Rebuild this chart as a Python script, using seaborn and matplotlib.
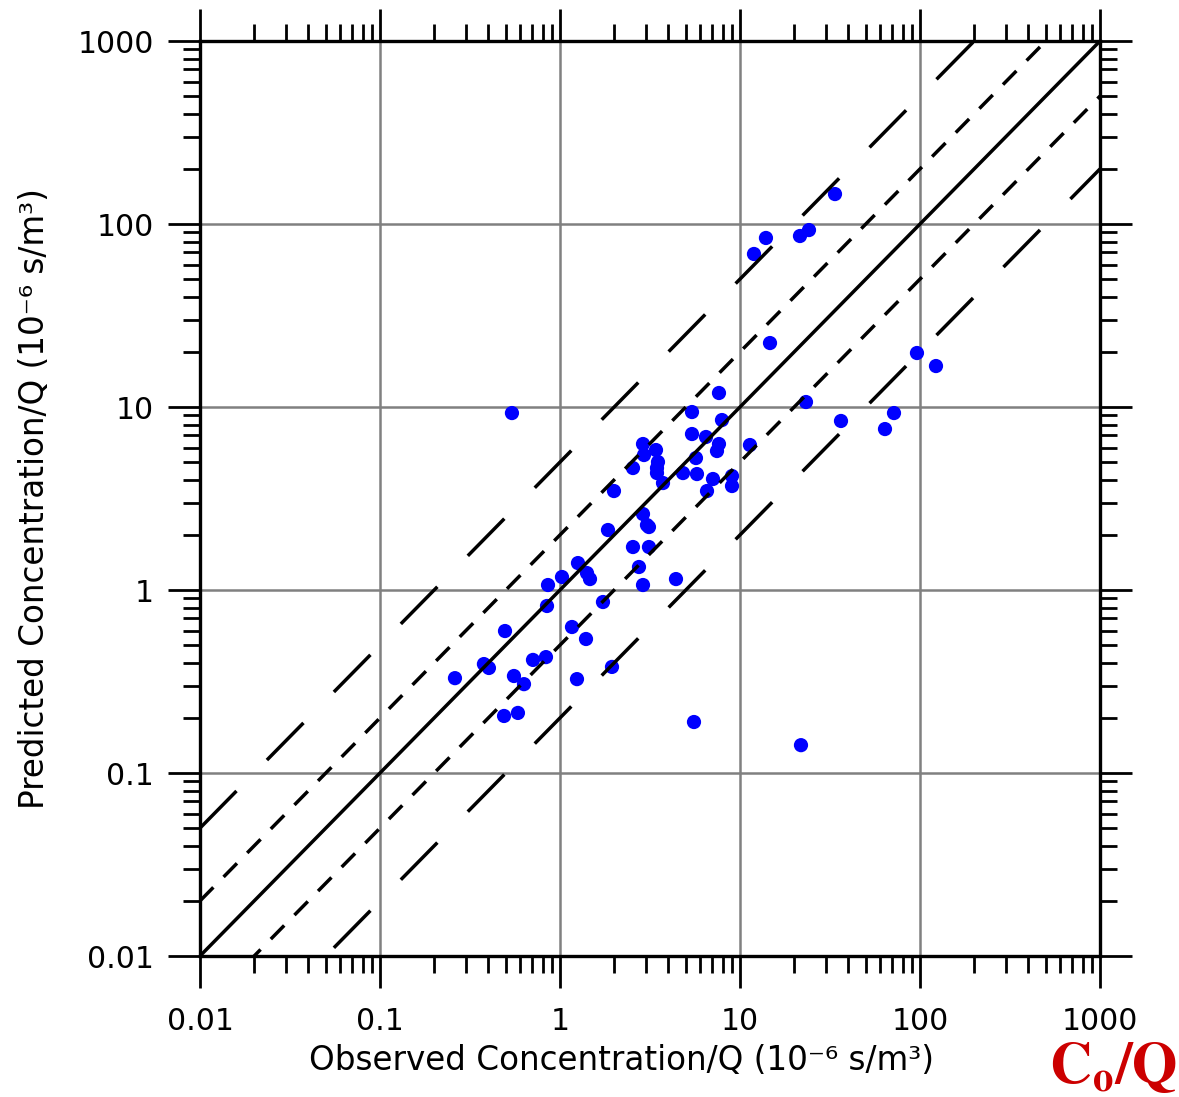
import numpy as np
import pandas as pd
import seaborn as sns
import matplotlib.pyplot as plt
from matplotlib.ticker import LogLocator, FixedLocator, NullFormatter

# observed vs predicted concentration / Q (10^-6 s/m3)
observed = [0.261, 0.378, 0.403, 0.495, 0.555, 0.631, 0.708, 0.836, 0.847, 0.858,
            0.489, 0.584, 1.026, 1.166, 1.259, 1.413, 1.468, 1.395, 1.243, 1.733,
            1.945, 1.995, 1.848, 2.747, 2.892, 4.41, 2.544, 3.121, 2.892, 3.043,
            3.121, 2.544, 2.892, 2.929, 3.415, 3.503, 3.459, 3.459, 3.735, 4.823,
            5.694, 5.768, 5.412, 5.412, 6.474, 6.558, 7.079, 7.643, 7.643, 7.451,
            7.943, 9.03, 9.03, 11.36, 0.541, 5.552, 21.82, 14.68, 11.96, 13.94,
            21.54, 24.17, 33.71, 23.26, 36.4, 63.9, 71.7, 96.2, 122.7]
predicted = [0.330, 0.394, 0.375, 0.597, 0.339, 0.306, 0.415, 0.430, 0.818, 1.065,
             0.205, 0.213, 1.178, 0.628, 1.404, 1.238, 1.148, 0.540, 0.326, 0.860,
             0.380, 3.475, 2.128, 1.336, 1.065, 1.148, 1.718, 1.718, 2.602, 2.265,
             2.209, 4.642, 6.279, 5.466, 5.821, 5.006, 4.642, 4.357, 3.843, 4.357,
             5.263, 4.303, 9.39, 7.12, 6.858, 3.475, 4.043, 11.93, 6.279, 5.749,
             8.49, 4.198, 3.701, 6.199, 9.27, 0.190, 0.142, 22.37, 68.6, 83.9,
             86.0, 92.7, 145.8, 10.65, 8.39, 7.58, 9.27, 19.73, 16.75]

line_x = [0.01, 1000]
factor_lines = [1, 2, 0.5, 5, 0.2]
tick_vals = [0.01, 0.1, 1, 10, 100, 1000]
tick_labels = ["0.01", "0.1", "1", "10", "100", "1000"]

sns.set_style("ticks")
plt.rcParams['font.family'] = ['DejaVu Sans']
plt.rcParams['text.color'] = 'black'
plt.rcParams['axes.labelcolor'] = 'black'
plt.rcParams['xtick.color'] = 'black'
plt.rcParams['ytick.color'] = 'black'

fig = plt.figure(figsize=(11.79, 10.97), dpi=100)
ax = fig.add_axes([0.1696, 0.1285, 0.7634, 0.8341])

df = pd.DataFrame({"obs": observed, "pred": predicted})
sns.scatterplot(data=df, x="obs", y="pred", color="#0000ff", s=105,
                edgecolor="none", zorder=3, ax=ax)

styles = {1: "-", 2: (0, (5.5, 4.2)), 0.5: (0, (5.5, 4.2)),
          5: (0, (15.0, 12.5)), 0.2: (0, (15.0, 12.5))}
for f in factor_lines:
    ax.plot(line_x, [v * f for v in line_x], color="black", lw=2.5,
            linestyle=styles[f], zorder=4)

ax.set_xscale("log")
ax.set_yscale("log")
ax.set_xlim(0.01, 1000)
ax.set_ylim(0.01, 1000)

for axis in [ax.xaxis, ax.yaxis]:
    axis.set_major_locator(FixedLocator(tick_vals))
    axis.set_minor_locator(LogLocator(base=10, subs=np.arange(2, 10), numticks=20))
    axis.set_minor_formatter(NullFormatter())
ax.set_xticklabels(tick_labels)
ax.set_yticklabels(tick_labels)

ax.tick_params(which="major", direction="out", length=23, width=2.0,
               top=True, right=True, labelsize=21.5, color="black")
ax.tick_params(axis="x", which="major", pad=14)
ax.tick_params(axis="y", which="major", pad=10)
ax.tick_params(which="minor", direction="out", length=12, width=2.0,
               top=True, right=True, color="black")

ax.grid(which="major", color="#808080", lw=1.8)
ax.set_axisbelow(True)
for sp in ax.spines.values():
    sp.set_linewidth(2.4)
    sp.set_color("black")

ax.set_xlabel("Observed Concentration/Q (10⁻⁶ s/m³)", fontsize=23.5)
ax.xaxis.label.set_va("center")
ax.xaxis.set_label_coords(0.468, -0.1137)
ax.set_ylabel("Predicted Concentration/Q (10⁻⁶ s/m³)", fontsize=23.5)
ax.yaxis.label.set_va("center")
ax.yaxis.set_label_coords(-0.184, 0.5)

fig.text(1177 / 1179, 1 - 1083 / 1097, r"$\mathbf{C_{o}/Q}$", color="#cc0000",
         fontsize=42, ha="right", va="baseline", math_fontfamily="stix")

fig.savefig("out.png", dpi=100)
